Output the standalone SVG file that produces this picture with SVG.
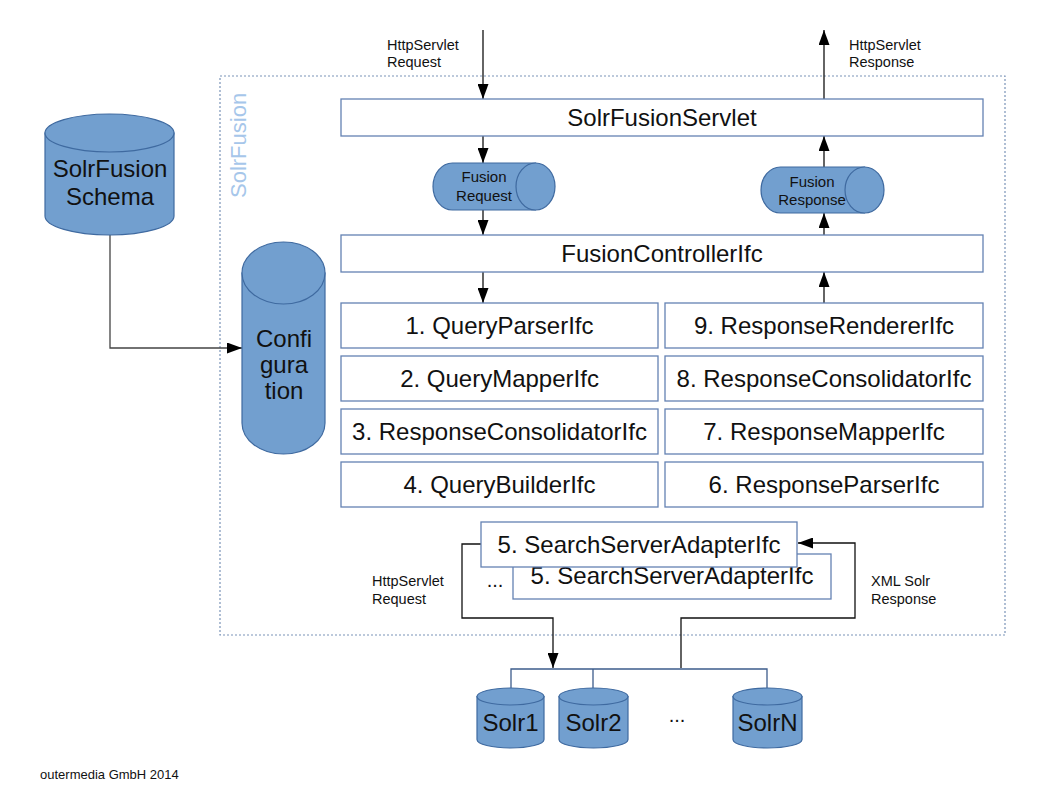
<svg xmlns="http://www.w3.org/2000/svg" width="1058" height="794" viewBox="0 0 1058 794">
<style>
text{font-family:"Liberation Sans",Arial,sans-serif;fill:#111}
.box{fill:#fff;stroke:#6482b3;stroke-width:1.3}
.cyl{fill:#729fcf;stroke:#3f6aa0;stroke-width:1.2}
.big{font-size:24px;text-anchor:middle}
.sm{font-size:14.5px}
.cs{font-size:15px;text-anchor:middle}
.ln{fill:none;stroke:#111;stroke-width:1.3}
.bus{fill:none;stroke:#3d5c8c;stroke-width:1.3}
</style>
<defs>
<marker id="ah" markerUnits="userSpaceOnUse" markerWidth="16" markerHeight="11" refX="15" refY="5.5" orient="auto">
<path d="M0,0 L15,5.5 L0,11 z" fill="#000"/>
</marker>
</defs>
<rect x="0" y="0" width="1058" height="794" fill="#fff"/>

<g id="solrfusion-boundary">
<rect x="220" y="76" width="785" height="559" fill="none" stroke="#7a93b8" stroke-width="1.2" stroke-dasharray="2,2"/>
<text transform="translate(246,198) rotate(-90)" style="font-size:22px;fill:#a6c6ea">SolrFusion</text>
</g>

<g id="connectors">
<path class="ln" d="M483,30 V99" marker-end="url(#ah)"/>
<path class="ln" d="M824,99 V30" marker-end="url(#ah)"/>
<path class="ln" d="M483,136 V163" marker-end="url(#ah)"/>
<path class="ln" d="M483,210 V235" marker-end="url(#ah)"/>
<path class="ln" d="M483,272 V303" marker-end="url(#ah)"/>
<path class="ln" d="M824,303 V272" marker-end="url(#ah)"/>
<path class="ln" d="M824,235 V213" marker-end="url(#ah)"/>
<path class="ln" d="M824,167 V136" marker-end="url(#ah)"/>
<path class="ln" style="stroke:#444" d="M110,235 V348 H242" marker-end="url(#ah)"/>
<path class="ln" d="M481,544 H462 V618 H553 V668" marker-end="url(#ah)"/>
<path class="ln" d="M681,668 V618 H855 V543 H798" marker-end="url(#ah)"/>
<path class="bus" d="M511,688 V669 H767 V688 M593,669 V688"/>
</g>

<g id="labels">
<text class="sm" x="387" y="50">HttpServlet</text>
<text class="sm" x="387" y="67">Request</text>
<text class="sm" x="849" y="50">HttpServlet</text>
<text class="sm" x="849" y="67">Response</text>
<text class="sm" x="372" y="586">HttpServlet</text>
<text class="sm" x="372" y="604">Request</text>
<text class="sm" x="871" y="586">XML Solr</text>
<text class="sm" x="871" y="604">Response</text>
<text x="40" y="779" style="font-size:13px">outermedia GmbH 2014</text>
</g>

<g id="schema">
<path class="cyl" d="M45,133 V216 A64.5,19 0 0 0 174,216 V133 Z"/>
<ellipse class="cyl" cx="109.5" cy="133" rx="64.5" ry="19"/>
<text class="big" x="110" y="177">SolrFusion</text>
<text class="big" x="110" y="205">Schema</text>
</g>

<g id="configuration">
<path class="cyl" d="M242,273 V423 A41.5,31 0 0 0 325,423 V273 Z"/>
<ellipse class="cyl" cx="283.5" cy="273" rx="41.5" ry="31"/>
<text class="big" x="284" y="347">Confi</text>
<text class="big" x="284" y="373">gura</text>
<text class="big" x="284" y="399">tion</text>
</g>

<g id="servlet">
<rect class="box" x="341" y="99" width="642" height="37"/>
<text class="big" x="662" y="126">SolrFusionServlet</text>
</g>

<g id="fusion-request">
<path class="cyl" d="M452.5,163 H535.5 V210 H452.5 A19.5,23.5 0 0 1 452.5,163 Z"/>
<ellipse class="cyl" cx="535.5" cy="186.5" rx="19.5" ry="23.5"/>
<text class="cs" x="484" y="182">Fusion</text>
<text class="cs" x="484" y="201">Request</text>
</g>

<g id="fusion-response">
<path class="cyl" d="M780.5,167 H864.5 V213 H780.5 A19.5,23 0 0 1 780.5,167 Z"/>
<ellipse class="cyl" cx="864.5" cy="190" rx="19.5" ry="23"/>
<text class="cs" x="812" y="187">Fusion</text>
<text class="cs" x="812" y="205">Response</text>
</g>

<g id="controller">
<rect class="box" x="341" y="235" width="642" height="37"/>
<text class="big" x="662" y="262">FusionControllerIfc</text>
</g>

<g id="query-parser">
<rect class="box" x="341" y="303" width="317" height="45"/>
<text class="big" x="499.5" y="334">1. QueryParserIfc</text>
</g>
<g id="query-mapper">
<rect class="box" x="341" y="356" width="317" height="45"/>
<text class="big" x="499.5" y="387">2. QueryMapperIfc</text>
</g>
<g id="response-consolidator-3">
<rect class="box" x="341" y="409" width="317" height="45"/>
<text class="big" x="499.5" y="440">3. ResponseConsolidatorIfc</text>
</g>
<g id="query-builder">
<rect class="box" x="341" y="462" width="317" height="45"/>
<text class="big" x="499.5" y="493">4. QueryBuilderIfc</text>
</g>
<g id="response-renderer">
<rect class="box" x="665" y="303" width="318" height="45"/>
<text class="big" x="824" y="334">9. ResponseRendererIfc</text>
</g>
<g id="response-consolidator-8">
<rect class="box" x="665" y="356" width="318" height="45"/>
<text class="big" x="824" y="387">8. ResponseConsolidatorIfc</text>
</g>
<g id="response-mapper">
<rect class="box" x="665" y="409" width="318" height="45"/>
<text class="big" x="824" y="440">7. ResponseMapperIfc</text>
</g>
<g id="response-parser">
<rect class="box" x="665" y="462" width="318" height="45"/>
<text class="big" x="824" y="493">6. ResponseParserIfc</text>
</g>

<g id="adapter-back">
<rect class="box" x="513" y="554" width="318" height="45"/>
<text class="big" x="672" y="584">5. SearchServerAdapterIfc</text>
<text x="495" y="587" style="font-size:20px;text-anchor:middle">...</text>
</g>
<g id="adapter-front">
<rect class="box" x="481" y="522" width="316" height="45"/>
<text class="big" x="639" y="553">5. SearchServerAdapterIfc</text>
</g>

<g id="solr1">
<path class="cyl" d="M477,696.5 V739.5 A33.5,8.5 0 0 0 544,739.5 V696.5 Z"/>
<ellipse class="cyl" cx="510.5" cy="696.5" rx="33.5" ry="8.5"/>
<text class="big" x="510.5" y="731">Solr1</text>
</g>
<g id="solr2">
<path class="cyl" d="M559,696.5 V739.5 A34.5,8.5 0 0 0 628,739.5 V696.5 Z"/>
<ellipse class="cyl" cx="593.5" cy="696.5" rx="34.5" ry="8.5"/>
<text class="big" x="593.5" y="731">Solr2</text>
</g>
<text x="677" y="722" style="font-size:20px;text-anchor:middle">...</text>
<g id="solrN">
<path class="cyl" d="M733,696.5 V739.5 A34.5,8.5 0 0 0 802,739.5 V696.5 Z"/>
<ellipse class="cyl" cx="767.5" cy="696.5" rx="34.5" ry="8.5"/>
<text class="big" x="767.5" y="731">SolrN</text>
</g>
</svg>
